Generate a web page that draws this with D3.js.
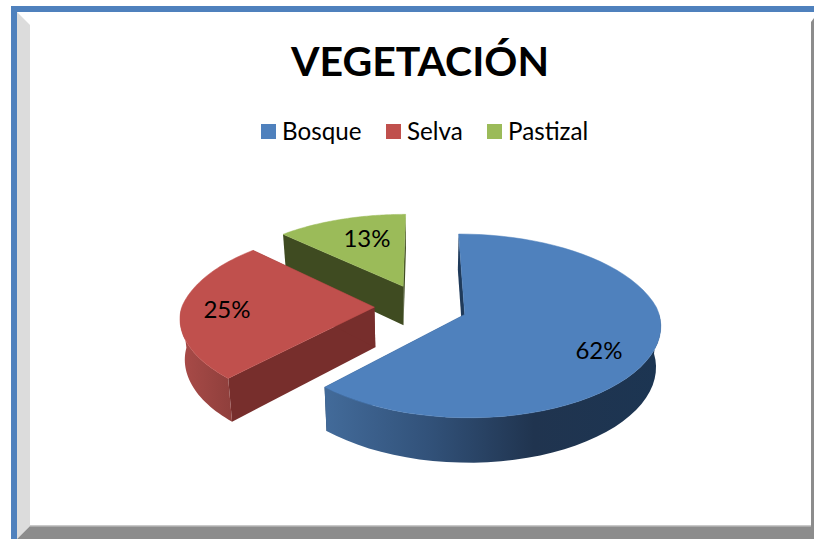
<!DOCTYPE html>
<html>
<head>
<meta charset="utf-8">
<style>
  html, body { margin: 0; padding: 0; background: #fff; }
  svg { display: block; }
  text { font-family: Lato, "Open Sans", sans-serif; fill: #000; }
</style>
</head>
<body>
<div id="viz"></div>
<script src="https://cdn.jsdelivr.net/npm/d3@7"></script>
<script>
var titleText = "VEGETACIÓN";
var categories = ["Bosque", "Selva", "Pastizal"];
var values = [62, 25, 13];
var labels = ["62%", "25%", "13%"];
var topColors = ["#4f81bd", "#c0504d", "#9bbb59"];
var wallColors = ["#1f3a5a", "#772e2c", "#3f4b21"];

var width = 814, height = 539;

var svg = d3.select("#viz").append("svg")
  .attr("width", width)
  .attr("height", height);

var defs = svg.append("defs");

// side of the slices gets lighter at the left end
var blueRim = defs.append("linearGradient").attr("id", "blueRim")
  .attr("gradientUnits", "userSpaceOnUse")
  .attr("x1", 328).attr("x2", 660).attr("y1", 0).attr("y2", 0);
blueRim.append("stop").attr("offset", 0).attr("stop-color", "#426a99");
blueRim.append("stop").attr("offset", 0.3).attr("stop-color", "#32527a");
blueRim.append("stop").attr("offset", 0.62).attr("stop-color", "#20344f");
blueRim.append("stop").attr("offset", 1).attr("stop-color", "#1c3552");

var redRim = defs.append("linearGradient").attr("id", "redRim")
  .attr("gradientUnits", "userSpaceOnUse")
  .attr("x1", 181).attr("x2", 232).attr("y1", 0).attr("y2", 0);
redRim.append("stop").attr("offset", 0).attr("stop-color", "#a94b48");
redRim.append("stop").attr("offset", 1).attr("stop-color", "#8f3f3c");

// frame of the chart
svg.append("rect").attr("x", 0).attr("y", 0).attr("width", width).attr("height", height).attr("fill", "#fff");
svg.append("polygon").attr("points", "17,12 30,25 30,526 17,539").attr("fill", "#dcdcdc");
svg.append("polygon").attr("points", "17,539 30,526 811,526 811,22 814,18 814,539").attr("fill", "#8c8c8c");
svg.append("rect").attr("x", 30).attr("y", 525).attr("width", 781).attr("height", 1.5).attr("fill", "#c9c9c9");
svg.append("rect").attr("x", 11).attr("y", 6).attr("width", 803).attr("height", 6).attr("fill", "#4f81bd");
svg.append("rect").attr("x", 11).attr("y", 6).attr("width", 6).attr("height", 533).attr("fill", "#4f81bd");

// title
svg.append("text")
  .attr("x", 420).attr("y", 76)
  .attr("text-anchor", "middle")
  .attr("font-size", 41)
  .attr("font-weight", 700)
  .text(titleText);

// legend
var legendX = d3.scaleOrdinal().domain(categories).range([261, 386, 487]);
var legend = svg.selectAll("g.legend").data(categories).enter().append("g")
  .attr("class", "legend")
  .attr("transform", function(d) { return "translate(" + legendX(d) + ",124)"; });
legend.append("rect")
  .attr("width", 15).attr("height", 15)
  .attr("fill", function(d, i) { return topColors[i]; });
legend.append("text")
  .attr("x", 21).attr("y", 16)
  .attr("font-size", 24.2)
  .text(function(d) { return d; });

// pie in the plane, then tilted with a bit of perspective
var centerX = 421, centerY = 306.5;
var radiusX = 192.5, radiusBack = 95, radiusFront = 88;
var viewDistX = 6, viewDistY = 4.7, explode = 0.242;

var slices = d3.pie().sort(null)(values);

function project(px, py, down) {
  // back half shrinks quicker than the front half grows
  var sx = py < 0 ? viewDistX / (viewDistX - py) : 1 + 0.11 * py;
  var y = py < 0
    ? radiusBack * py * viewDistY / (viewDistY - py)
    : radiusFront * py * (1 + 0.148 * py);
  var x = radiusX * px * sx;
  // bottom edge sits a little further away
  if (down) return [centerX + x * 0.98, centerY + y + 40 + 4.5 * py];
  return [centerX + x, centerY + y];
}

function slicePoints(s) {
  var mid = (s.startAngle + s.endAngle) / 2;
  var ox = explode * Math.sin(mid), oy = -explode * Math.cos(mid);
  var angles = d3.range(0, 61).map(function(k) {
    return s.startAngle + (s.endAngle - s.startAngle) * k / 60;
  });
  return {
    apex: [ox, oy],
    rim: angles.map(function(a) { return [ox + Math.sin(a), oy - Math.cos(a)]; })
  };
}

var line = d3.line();

function upper(q) { return project(q[0], q[1], false); }
function lower(q) { return project(q[0], q[1], true); }

function drawSlice(i) {
  var s = slices[i], g = svg.append("g");
  var pts = slicePoints(s);
  var first = pts.rim[0], last = pts.rim[pts.rim.length - 1];

  // two flat cut walls
  [first, last].forEach(function(end) {
    g.append("path")
      .attr("d", line([upper(pts.apex), upper(end), lower(end), lower(pts.apex)]) + "Z")
      .attr("fill", wallColors[i]);
  });

  // curved outer wall, only what looks toward the viewer
  var front = pts.rim.filter(function(q) {
    return q[1] > pts.apex[1] - 0.02;
  });
  if (front.length > 1) {
    var fill = i == 0 ? "url(#blueRim)" : i == 1 ? "url(#redRim)" : wallColors[i];
    g.append("path")
      .attr("d", line(front.map(upper).concat(front.slice().reverse().map(lower))) + "Z")
      .attr("fill", fill);
  }

  // top face
  g.append("path")
    .attr("d", line([upper(pts.apex)].concat(pts.rim.map(upper))) + "Z")
    .attr("fill", topColors[i])
    .attr("stroke", topColors[i])
    .attr("stroke-width", 0.5);
}

// back to front
[2, 1, 0].forEach(drawSlice);

// percentage labels
var labelPos = [[599, 359], [227, 318], [367, 247]];
svg.selectAll("text.pct").data(labels).enter().append("text")
  .attr("class", "pct")
  .attr("x", function(d, i) { return labelPos[i][0]; })
  .attr("y", function(d, i) { return labelPos[i][1]; })
  .attr("text-anchor", "middle")
  .attr("font-size", 24)
  .text(function(d) { return d; });
</script>
</body>
</html>
